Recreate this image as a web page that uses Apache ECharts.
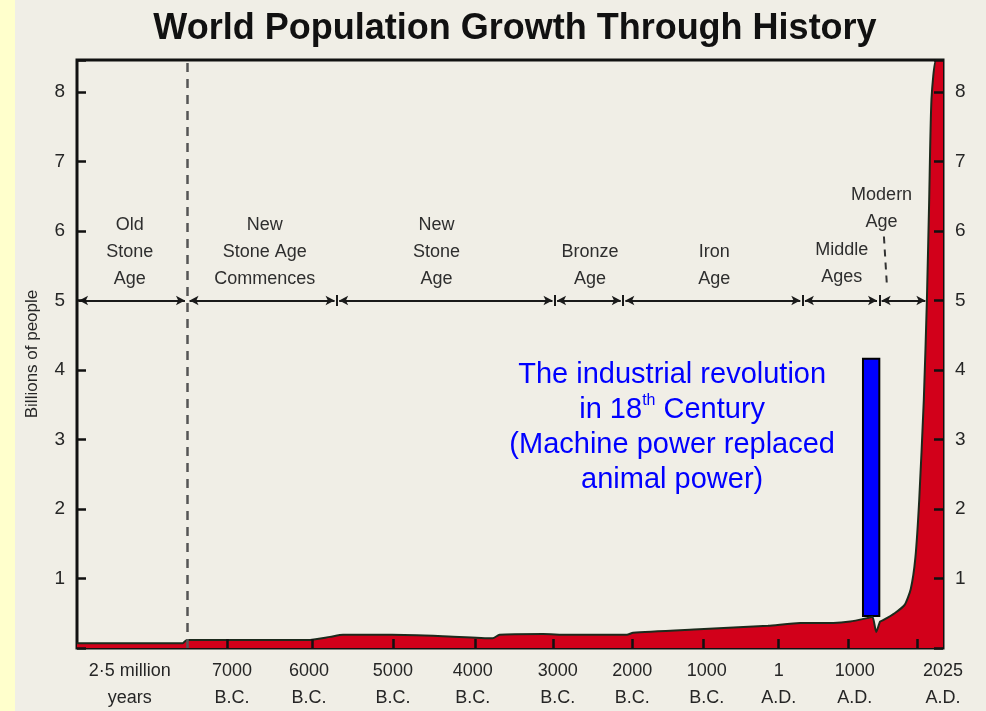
<!DOCTYPE html>
<html>
<head>
<meta charset="utf-8">
<script src="https://cdn.jsdelivr.net/npm/echarts@6/dist/echarts.min.js"></script>
<style>
  html, body { margin: 0; padding: 0; background: #f0eee6; }
  #chart { width: 986px; height: 711px; }
</style>
</head>
<body>
<div id="chart"></div>
<script>
// x is the position along the printed time axis (1 unit ~ one tick gap)
const xMin = -2.107
const xMax = 9.18
const xTickPos = [-0.15, 0.955, 2.01, 3.08, 4.1, 5.13, 6.06, 7.03, 7.95, 8.84]
const xLabelPos = [-1.42, -0.087, 0.917, 2.01, 3.05, 4.16, 5.13, 6.1, 7.04, 8.03, 9.18]
const xLabels = [
  '2·5 million\nyears', '7000\nB.C.', '6000\nB.C.', '5000\nB.C.', '4000\nB.C.',
  '3000\nB.C.', '2000\nB.C.', '1000\nB.C.', '1\nA.D.', '1000\nA.D.', '2025\nA.D.'
]

// population curve (billions)
const curveX = [-2.107, -1.5, -0.73, -0.674, 0.9, 1.19, 1.36, 2.0, 2.66, 3.31, 3.4, 3.97, 4.28, 5.06, 5.14,
  6.0, 6.9, 7.32, 7.75, 7.97, 8.19, 8.26, 8.31, 8.36, 8.4, 8.55, 8.68, 8.76, 8.82, 8.87, 8.93, 8.97, 9.0, 9.03, 9.09, 9.18]
const curveY = [0.07, 0.07, 0.07, 0.115, 0.115, 0.16, 0.19, 0.19, 0.17, 0.14, 0.19, 0.2, 0.19, 0.19, 0.22,
  0.27, 0.32, 0.36, 0.36, 0.38, 0.43, 0.45, 0.23, 0.38, 0.4, 0.5, 0.62, 0.85, 1.3, 2.13, 3.57, 5.0, 6.45, 7.9, 8.46, 8.46]

// eras along the 5-billion line
const eraNames = ['Old\nStone\nAge', 'New\nStone Age\nCommences', 'New\nStone\nAge', 'Bronze\nAge', 'Iron\nAge', 'Middle\nAges', 'Modern\nAge']
const eraX = [-1.42, 0.34, 2.58, 4.58, 6.2, 7.86, 8.38]
const eraY = [5.7, 5.7, 5.7, 5.51, 5.51, 5.53, 6.33]
const eraStart = [-2.08, -0.64, 1.31, 4.15, 5.04, 7.38, 8.38]
const eraEnd = [-0.7, 1.25, 4.09, 4.98, 7.32, 8.32, 8.95]
const eraBreaks = [1.28, 4.12, 5.01, 7.35, 8.35]
const eraLineY = 5
const dividerX = -0.674

// industrial revolution marker
const revBox = [[8.137, 4.16], [8.35, 0.46]]
const revTextPos = [5.65, 3.17]

const textColor = '#262626'
const fontFamily = '"Liberation Sans", Arial, sans-serif'

const intLabel = function (v) { return (v > 0 && Math.abs(v - Math.round(v)) < 1e-6) ? String(v) : '' }

const chart = echarts.init(document.getElementById('chart'))

chart.setOption({
  backgroundColor: '#f0eee6',
  animation: false,
  title: {
    text: 'World Population Growth Through History',
    left: 510,
    top: 6,
    textAlign: 'center',
    textStyle: { fontSize: 36, fontWeight: 'bold', color: '#111', fontFamily: fontFamily }
  },
  graphic: [
    { type: 'rect', left: 0, top: 0, shape: { width: 15, height: 711 }, style: { fill: '#ffffcc' }, z: -1 }
  ],
  grid: {
    left: 77, right: 43, top: 60, bottom: 63,
    outerBoundsMode: 'none', containLabel: false,
    show: true, borderColor: '#111', borderWidth: 3, backgroundColor: '#f0eee6'
  },
  xAxis: {
    type: 'value', min: xMin, max: xMax, z: 5,
    splitLine: { show: false },
    axisLine: { show: false, onZero: false },
    axisTick: { show: true, inside: true, length: 9, customValues: xTickPos, lineStyle: { color: '#111', width: 2.5 } },
    axisLabel: {
      show: true, customValues: xLabelPos, margin: 10, hideOverlap: false,
      fontSize: 18, lineHeight: 27, color: textColor, fontFamily: fontFamily,
      formatter: function (v) {
        for (let i = 0; i < xLabelPos.length; i++) {
          if (Math.abs(xLabelPos[i] - v) < 1e-6) return xLabels[i]
        }
        return ''
      }
    }
  },
  yAxis: [
    {
      type: 'value', min: 0, max: 8.46, interval: 1, position: 'left', z: 5,
      name: 'Billions of people', nameLocation: 'middle', nameGap: 36, nameRotate: 90,
      nameMoveOverlap: false,
      nameTextStyle: { fontSize: 17, color: textColor, fontFamily: fontFamily },
      splitLine: { show: false },
      axisLine: { show: false, onZero: false },
      axisTick: { show: true, inside: true, length: 9, lineStyle: { color: '#111', width: 2.5 } },
      axisLabel: { margin: 12, fontSize: 19, color: textColor, fontFamily: fontFamily, formatter: intLabel }
    },
    {
      type: 'value', min: 0, max: 8.46, interval: 1, position: 'right', z: 5,
      splitLine: { show: false },
      axisLine: { show: false, onZero: false },
      axisTick: { show: true, inside: true, length: 9, lineStyle: { color: '#111', width: 2.5 } },
      axisLabel: { margin: 12, fontSize: 19, color: textColor, fontFamily: fontFamily, formatter: intLabel }
    }
  ],
  series: [
    {
      name: 'Population',
      type: 'line',
      z: 2,
      symbol: 'none',
      smooth: 0.2,
      data: curveX.map((x, i) => [x, curveY[i]]),
      lineStyle: { color: '#1c2a1c', width: 2 },
      areaStyle: { color: '#d2001a', opacity: 1, origin: 'start' },
      markLine: {
        silent: true,
        symbol: 'none',
        label: { show: false },
        lineStyle: { color: '#555', width: 2.5, type: [9, 7] },
        data: [{ xAxis: dividerX }]
      }
    },
    {
      name: 'Eras',
      type: 'scatter',
      z: 3,
      symbolSize: 0,
      itemStyle: { opacity: 1 },
      data: eraX.map((x, i) => ({ value: [x, eraY[i]], name: eraNames[i] })),
      label: {
        show: true, position: 'inside',
        formatter: function (p) { return p.name },
        fontSize: 18, lineHeight: 27, color: '#2e2e2e', fontFamily: fontFamily,
        textBorderWidth: 0, opacity: 1
      },
      markLine: {
        silent: true,
        symbol: ['arrow', 'arrow'],
        symbolSize: [7, 9],
        label: { show: false },
        lineStyle: { color: '#1a1a1a', width: 2, type: 'solid' },
        data: eraStart.map((s, i) => [{ coord: [s, eraLineY] }, { coord: [eraEnd[i], eraLineY] }])
      }
    },
    {
      name: 'Era breaks',
      type: 'scatter',
      z: 3,
      symbolSize: 0,
      data: [],
      markLine: {
        silent: true,
        symbol: 'none',
        label: { show: false },
        lineStyle: { color: '#1a1a1a', width: 2, type: 'solid' },
        data: eraBreaks.map(b => [{ coord: [b, eraLineY - 0.08] }, { coord: [b, eraLineY + 0.08] }])
      }
    },
    {
      name: 'Modern pointer',
      type: 'scatter',
      z: 3,
      symbolSize: 0,
      data: [],
      markLine: {
        silent: true,
        symbol: 'none',
        label: { show: false },
        lineStyle: { color: '#333', width: 2, type: [7, 6] },
        data: [[{ coord: [8.41, 5.92] }, { coord: [8.45, 5.2] }]]
      }
    },
    {
      name: 'Industrial revolution',
      type: 'scatter',
      z: 6,
      symbolSize: 0,
      itemStyle: { opacity: 1 },
      data: [{ value: revTextPos }],
      label: {
        show: true, position: 'inside',
        formatter: 'The industrial revolution\nin 18{sup|th} Century\n(Machine power replaced\nanimal power)',
        fontSize: 29, lineHeight: 35, color: '#0000ff', fontFamily: fontFamily, align: 'center',
        textBorderWidth: 0, opacity: 1,
        rich: {
          sup: { fontSize: 16, lineHeight: 35, verticalAlign: 'top', color: '#0000ff', fontFamily: fontFamily, textBorderWidth: 0 }
        }
      },
      markArea: {
        silent: true,
        itemStyle: { color: '#0000ff', borderColor: '#000', borderWidth: 2, opacity: 1 },
        data: [[{ coord: revBox[0] }, { coord: revBox[1] }]]
      }
    }
  ]
})
</script>
</body>
</html>
